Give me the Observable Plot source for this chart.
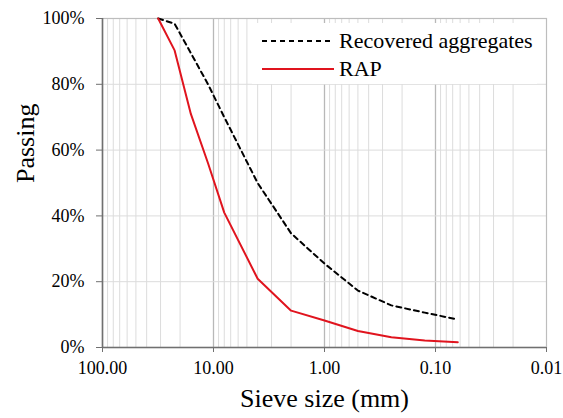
<!DOCTYPE html>
<html>
<head>
<meta charset="utf-8">
<script src="https://cdn.jsdelivr.net/npm/d3@7"></script>
<script src="https://cdn.jsdelivr.net/npm/@observablehq/plot@0.6"></script>
<style>
  html, body { margin: 0; padding: 0; background: #fff; }
  #wrap { position: relative; width: 563px; height: 418px; font-family: "Liberation Serif", "Times New Roman", serif; }
  #wrap svg, #wrap svg text { font-family: "Liberation Serif", "Times New Roman", serif !important; }
  #legend { position: absolute; left: 252px; top: 23px; width: 285px; height: 61px; background: #fff; }
  #legend .row { position: absolute; left: 0; height: 28px; display: flex; align-items: center; font-size: 22px; color: #000; }
  #legend svg { margin-left: 10px; margin-right: 5px; }
</style>
</head>
<body>
<div id="wrap"></div>
<script>
// Data
const sieveSizes = [31.5, 22.4, 16, 11.2, 8, 4, 2, 1, 0.5, 0.25, 0.125, 0.063];
const recoveredPassing = [100, 98.4, 89.5, 80, 70, 50, 34.7, 25.5, 17.3, 12.8, 10.6, 8.5];
const rapPassing = [100, 90.3, 71, 56, 41, 20.9, 11.2, 8.2, 5.0, 3.1, 2.1, 1.6];
const seriesNames = ["Recovered aggregates", "RAP"];
const xTicks = [100, 10, 1, 0.1, 0.01];
const yTicks = [0, 20, 40, 60, 80, 100];

const recovered = sieveSizes.map((s, i) => ({size: s, passing: recoveredPassing[i]}));
const rap = sieveSizes.map((s, i) => ({size: s, passing: rapPassing[i]}));

const minorX = [];
for (const d of [10, 1, 0.1, 0.01]) for (let k = 2; k <= 9; k++) minorX.push(+(k * d).toPrecision(3));
const majorX = [10, 1, 0.1];
const serif = "Liberation Serif, Times New Roman, serif";

const chart = Plot.plot({
  width: 563,
  height: 418,
  marginLeft: 102,
  marginRight: 17,
  marginTop: 18,
  marginBottom: 71,
  style: {fontFamily: serif, background: "#fff", color: "#000"},
  x: {type: "log", domain: [100, 0.01]},
  y: {domain: [0, 100]},
  marks: [
    Plot.ruleX(minorX, {stroke: "#dcdcdc", strokeWidth: 1}),
    Plot.ruleX(majorX, {stroke: "#b8b8b8", strokeWidth: 1.3}),
    Plot.ruleY([20, 40, 60, 80], {stroke: "#dcdcdc", strokeWidth: 1}),
    Plot.frame({stroke: "#bdbdbd", strokeWidth: 1.2}),
    Plot.ruleX([100], {stroke: "#707070", strokeWidth: 1.6}),
    Plot.ruleY([0], {stroke: "#707070", strokeWidth: 1.6}),
    Plot.axisX(xTicks, {tickFormat: d => d.toFixed(2), tickSize: 5, tickPadding: 9, fontSize: 18, fontFamily: serif, stroke: "#707070", color: "#000", label: null}),
    Plot.axisY(yTicks, {tickFormat: d => d + "%", tickSize: 6, tickPadding: 12, fontSize: 18, fontFamily: serif, stroke: "#707070", label: null}),
    Plot.line(recovered, {x: "size", y: "passing", stroke: "#000", strokeWidth: 2, strokeDasharray: "5,4"}),
    Plot.line(rap, {x: "size", y: "passing", stroke: "#e0141e", strokeWidth: 2}),
    Plot.text(["Sieve size (mm)"], {frameAnchor: "bottom", dy: 59, fontSize: 26, fontFamily: serif, fill: "#000"}),
    Plot.text(["Passing"], {frameAnchor: "left", dx: -77, rotate: -90, fontSize: 26, fontFamily: serif, fill: "#000"})
  ]
});
const wrap = document.getElementById("wrap");
wrap.appendChild(chart);

const legend = document.createElement("div");
legend.id = "legend";
legend.innerHTML = `
  <div class="row" style="top:4px"><svg width="72" height="6"><line x1="0" y1="3" x2="72" y2="3" stroke="#000" stroke-width="2" stroke-dasharray="5,4"/></svg><span>${seriesNames[0]}</span></div>
  <div class="row" style="top:32px"><svg width="72" height="6"><line x1="0" y1="3" x2="72" y2="3" stroke="#e0141e" stroke-width="2"/></svg><span>${seriesNames[1]}</span></div>`;
wrap.appendChild(legend);
</script>
</body>
</html>
